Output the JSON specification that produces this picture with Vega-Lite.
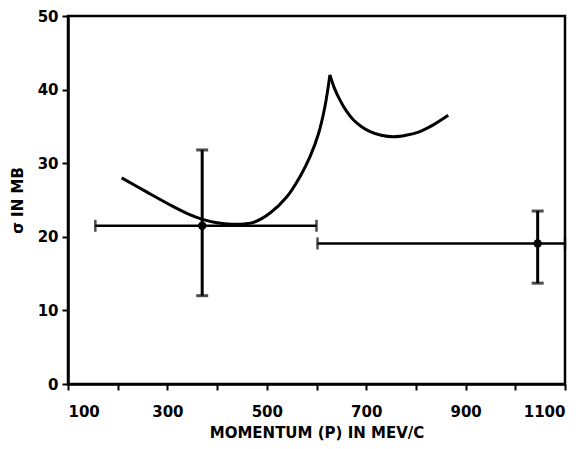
{
  "$schema": "https://vega.github.io/schema/vega-lite/v6.json",
  "autosize": "none",
  "width": 497,
  "height": 368,
  "padding": {"left": 68, "top": 16, "right": 15, "bottom": 65},
  "background": "white",
  "config": {
    "view": {"stroke": "black", "strokeWidth": 2.5},
    "axis": {
      "grid": false,
      "domainColor": "black",
      "domainWidth": 2.5,
      "tickColor": "black",
      "tickWidth": 2,
      "tickSize": 6,
      "labelFont": "DejaVu Sans",
      "labelFontWeight": "bold",
      "labelFontSize": 15,
      "labelColor": "black",
      "titleFont": "DejaVu Sans",
      "titleFontWeight": "bold",
      "titleFontSize": 15,
      "titleColor": "black"
    }
  },
  "datasets": {
    "curve": [
      {"seg": "a", "p": 208, "sigma": 28.0},
      {"seg": "a", "p": 258, "sigma": 26.1},
      {"seg": "a", "p": 312, "sigma": 24.1},
      {"seg": "a", "p": 345, "sigma": 23.0},
      {"seg": "a", "p": 369, "sigma": 22.4},
      {"seg": "a", "p": 400, "sigma": 21.9},
      {"seg": "a", "p": 430, "sigma": 21.7},
      {"seg": "a", "p": 455, "sigma": 21.75},
      {"seg": "a", "p": 475, "sigma": 22.0},
      {"seg": "a", "p": 506, "sigma": 23.2},
      {"seg": "a", "p": 540, "sigma": 25.4},
      {"seg": "a", "p": 567, "sigma": 28.2},
      {"seg": "a", "p": 587, "sigma": 30.9},
      {"seg": "a", "p": 604, "sigma": 34.0},
      {"seg": "a", "p": 617, "sigma": 37.7},
      {"seg": "a", "p": 627, "sigma": 42.0},
      {"seg": "b", "p": 627, "sigma": 42.0},
      {"seg": "b", "p": 636, "sigma": 40.2},
      {"seg": "b", "p": 647, "sigma": 38.6},
      {"seg": "b", "p": 660, "sigma": 37.1},
      {"seg": "b", "p": 674, "sigma": 35.9},
      {"seg": "b", "p": 690, "sigma": 35.0},
      {"seg": "b", "p": 708, "sigma": 34.3},
      {"seg": "b", "p": 730, "sigma": 33.8},
      {"seg": "b", "p": 755, "sigma": 33.6},
      {"seg": "b", "p": 780, "sigma": 33.8},
      {"seg": "b", "p": 808, "sigma": 34.3},
      {"seg": "b", "p": 835, "sigma": 35.2},
      {"seg": "b", "p": 865, "sigma": 36.5}
    ],
    "points": [
      {"p": 370, "sigma": 21.5, "lo": 12.0, "hi": 31.8, "pmin": 155, "pmax": 600},
      {"p": 1045, "sigma": 19.1, "lo": 13.7, "hi": 23.5, "pmin": 602, "pmax": 1100}
    ]
  },
  "encoding": {},
  "layer": [
    {
      "data": {"name": "curve"},
      "mark": {"type": "line", "color": "black", "strokeWidth": 3, "interpolate": "catmull-rom"},
      "encoding": {
        "detail": {"field": "seg", "type": "nominal"},
        "x": {"field": "p", "type": "quantitative",
              "scale": {"domain": [100, 1100], "nice": false},
              "axis": {"title": "MOMENTUM (P) IN MEV/C",
                       "values": [100,150,200,250,300,350,400,450,500,550,600,650,700,750,800,850,900,950,1000,1050,1100],
                       "labelExpr": "(datum.value - 100) % 200 == 0 ? datum.label : ''",
                       "format": "d", "labelPadding": 14, "titlePadding": 6, "labelFlush": true}},
        "y": {"field": "sigma", "type": "quantitative",
              "scale": {"domain": [0, 50], "nice": false},
              "axis": {"title": "σ IN MB", "values": [0,10,20,30,40,50], "labelPadding": 4, "titlePadding": 12, "labelFlush": false}}
      }
    },
    {
      "data": {"name": "points"},
      "mark": {"type": "rule", "color": "black", "strokeWidth": 2.5},
      "encoding": {
        "x": {"field": "pmin", "type": "quantitative"},
        "x2": {"field": "pmax"},
        "y": {"field": "sigma", "type": "quantitative"}
      }
    },
    {
      "data": {"name": "points"},
      "mark": {"type": "rule", "color": "black", "strokeWidth": 3},
      "encoding": {
        "x": {"field": "p", "type": "quantitative"},
        "y": {"field": "lo", "type": "quantitative"},
        "y2": {"field": "hi"}
      }
    },
    {
      "data": {"name": "points"},
      "mark": {"type": "tick", "color": "black", "orient": "horizontal", "size": 12, "thickness": 3},
      "encoding": {
        "x": {"field": "p", "type": "quantitative"},
        "y": {"field": "lo", "type": "quantitative"}
      }
    },
    {
      "data": {"name": "points"},
      "mark": {"type": "tick", "color": "black", "orient": "horizontal", "size": 12, "thickness": 3},
      "encoding": {
        "x": {"field": "p", "type": "quantitative"},
        "y": {"field": "hi", "type": "quantitative"}
      }
    },
    {
      "data": {"name": "points"},
      "mark": {"type": "tick", "color": "black", "orient": "vertical", "size": 12, "thickness": 2.5},
      "encoding": {
        "x": {"field": "pmin", "type": "quantitative"},
        "y": {"field": "sigma", "type": "quantitative"}
      }
    },
    {
      "data": {"name": "points"},
      "mark": {"type": "tick", "color": "black", "orient": "vertical", "size": 12, "thickness": 2.5},
      "encoding": {
        "x": {"field": "pmax", "type": "quantitative"},
        "y": {"field": "sigma", "type": "quantitative"}
      }
    },
    {
      "data": {"name": "points"},
      "mark": {"type": "point", "filled": true, "color": "black", "opacity": 1, "size": 70},
      "encoding": {
        "x": {"field": "p", "type": "quantitative"},
        "y": {"field": "sigma", "type": "quantitative"}
      }
    }
  ]
}
